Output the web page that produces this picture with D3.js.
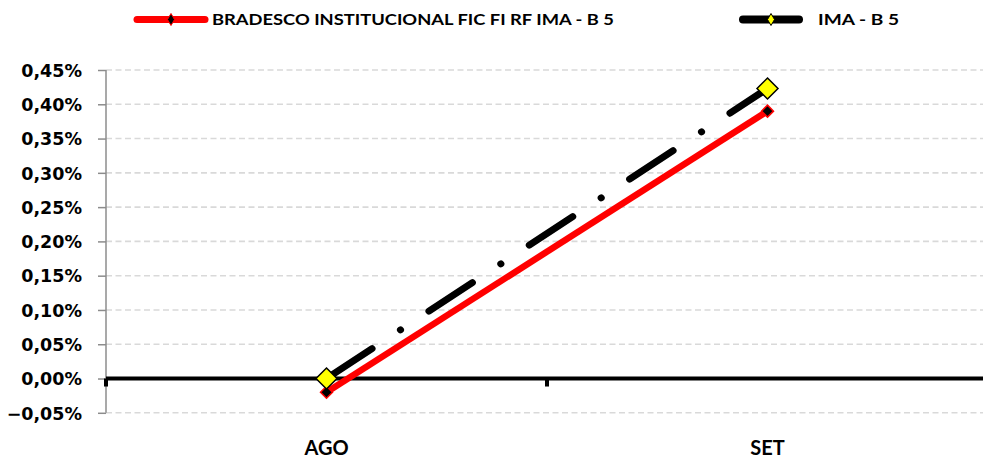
<!DOCTYPE html>
<html><head><meta charset="utf-8">
<script src="https://cdn.jsdelivr.net/npm/d3@7"></script>
<style>html,body{margin:0;padding:0;background:#fff;}svg{display:block;font-family:Lato,"Open Sans",sans-serif;}</style>
</head><body>
<svg id="c" width="983" height="459"></svg>
<script>
const categories = ["AGO", "SET"];
const seriesNames = ["BRADESCO INSTITUCIONAL FIC FI RF IMA - B 5", "IMA - B 5"];
const fundValues = [-0.0002, 0.0039];
const indexValues = [0.0000, 0.00423];
const yTicks = [-0.0005, 0, 0.0005, 0.001, 0.0015, 0.002, 0.0025, 0.003, 0.0035, 0.004, 0.0045];

const svg = d3.select("#c");
const L = 106, R = 988, T = 70, B = 412.8;
const x = d3.scaleBand().domain(categories).range([L, R]);
const y = d3.scaleLinear().domain([-0.0005, 0.0045]).range([B, T]);
const fmt = v => d3.format(".2f")(v * 100).replace(".", ",") + "%";

// gridlines
svg.append("g").selectAll("line").data(yTicks.filter(t => t !== 0)).join("line")
  .attr("x1", L).attr("x2", 983).attr("y1", d => y(d)).attr("y2", d => y(d))
  .attr("stroke", "#d9d9d9").attr("stroke-width", 1.6).attr("stroke-dasharray", "6,3.5");

// y axis
const yAxis = d3.axisLeft(y).tickValues(yTicks).tickFormat(fmt).tickSize(8).tickPadding(16);
const ga = svg.append("g").attr("transform", `translate(${L},0)`).call(yAxis);
ga.select(".domain").attr("stroke", "#8c8c8c").attr("stroke-width", 1.5).attr("d", `M0,${T}V${B}`);
ga.selectAll(".tick line").attr("stroke", "#8c8c8c").attr("stroke-width", 1.5);
ga.selectAll(".tick text").attr("fill", "#000").attr("dy", "0.36em")
  .style("font-family", "'DejaVu Sans', Verdana, sans-serif")
  .style("font-size", "17.5px").style("font-weight", "bold");

// zero line
svg.append("line").attr("x1", L).attr("x2", 983).attr("y1", y(0)).attr("y2", y(0))
  .attr("stroke", "#000").attr("stroke-width", 4);
// category boundary ticks
const bounds = [L, L + x.bandwidth()];
svg.append("g").selectAll("line").data(bounds).join("line")
  .attr("x1", d => d).attr("x2", d => d).attr("y1", y(0)).attr("y2", y(0) + 8)
  .attr("stroke", "#000").attr("stroke-width", 4);

// x labels
svg.append("g").selectAll("text").data(categories).join("text")
  .attr("x", d => x(d) + x.bandwidth() / 2).attr("y", 455)
  .attr("text-anchor", "middle").attr("font-size", 20).attr("font-weight", "bold").text(d => d);

const cx = d => x(d) + x.bandwidth() / 2;
const line = d3.line().x((d, i) => cx(categories[i])).y(d => y(d));

// fund series (red)
svg.append("path").datum(fundValues).attr("d", line).attr("fill", "none")
  .attr("stroke", "#ff0000").attr("stroke-width", 6.5);
// index series (black dash-dot)
svg.append("path").datum(indexValues).attr("d", line).attr("fill", "none")
  .attr("stroke", "#000").attr("stroke-width", 7).attr("stroke-linecap", "round")
  .attr("stroke-dasharray", "52,34,0.1,34").attr("stroke-dashoffset", -2.5);

const diamond = s => `M0,${-s}L${s},0L0,${s}L${-s},0Z`;
svg.append("g").selectAll("path").data(fundValues).join("path")
  .attr("transform", (d, i) => `translate(${cx(categories[i])},${y(d)})`)
  .attr("d", diamond(6)).attr("fill", "#000").attr("stroke", "#ff0000").attr("stroke-width", 1.5);
svg.append("g").selectAll("path").data(indexValues).join("path")
  .attr("transform", (d, i) => `translate(${cx(categories[i])},${y(d)})`)
  .attr("d", diamond(10.5)).attr("fill", "#ffff00").attr("stroke", "#000").attr("stroke-width", 1.5);

// legend
const lg = svg.append("g");
lg.append("line").attr("x1", 137).attr("x2", 205).attr("y1", 19.5).attr("y2", 19.5)
  .attr("stroke", "#ff0000").attr("stroke-width", 7).attr("stroke-linecap", "round");
lg.append("path").attr("transform", "translate(171,19.5)").attr("d", "M0,-6L3.5,0L0,6L-3.5,0Z")
  .attr("fill", "#000").attr("stroke", "#ff0000").attr("stroke-width", 1);
lg.append("text").attr("x", 212).attr("y", 25).attr("font-size", 16).attr("font-weight", "bold")
  .attr("textLength", 402).attr("lengthAdjust", "spacingAndGlyphs").text(seriesNames[0]);
lg.append("line").attr("x1", 743).attr("x2", 799).attr("y1", 19.5).attr("y2", 19.5)
  .attr("stroke", "#000").attr("stroke-width", 8).attr("stroke-linecap", "round");
lg.append("path").attr("transform", "translate(771,19.5)").attr("d", "M0,-6L3.5,0L0,6L-3.5,0Z")
  .attr("fill", "#ffff00").attr("stroke", "#000").attr("stroke-width", 1);
lg.append("text").attr("x", 818).attr("y", 25).attr("font-size", 16).attr("font-weight", "bold")
  .attr("textLength", 81).attr("lengthAdjust", "spacingAndGlyphs").text(seriesNames[1]);
</script>
</body></html>
